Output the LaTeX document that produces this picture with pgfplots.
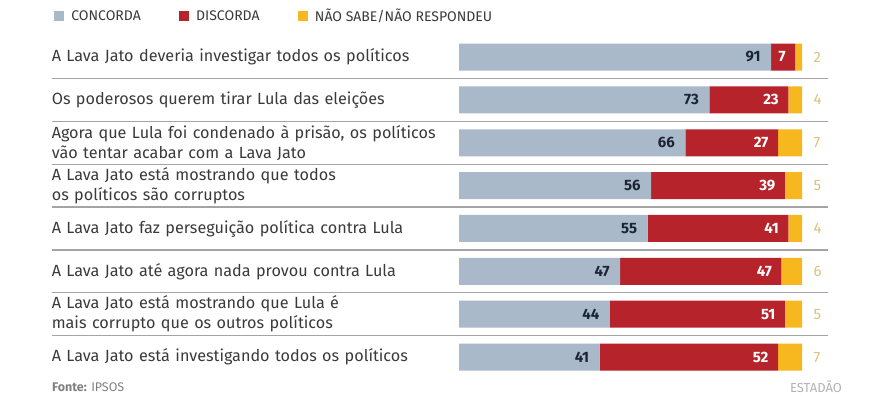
\documentclass[border=0pt]{standalone}
\usepackage{fontspec}
\setmainfont{Fira Sans}
\usepackage{pgfplots}
\pgfplotsset{compat=1.18}
\usepackage{pgfplotstable}
\definecolor{cgray}{HTML}{A9B9C9}
\definecolor{cred}{HTML}{B7232A}
\definecolor{cyel}{HTML}{F6B81E}
\definecolor{cnavy}{HTML}{1C2533}
\definecolor{ctan}{HTML}{D9C27C}
\definecolor{ctext}{HTML}{3A3A3A}
\definecolor{cline}{HTML}{A4A4A4}
% r: row, c: concorda, d: discorda, n: nao sabe, cd: end of the red segment (c+d), t: total
\pgfplotstableread{
r c d n cd t
1 91 7 2 98 100
2 73 23 4 96 100
3 66 27 7 93 100
4 56 39 5 95 100
5 55 41 4 96 100
6 47 47 6 94 100
7 44 51 5 95 100
8 41 52 7 93 100
}\data
\pgfplotsset{
  frame/.style={
    at={(459bp,359.4bp)}, anchor=north west,
    scale only axis, width=343bp, height=342.9bp,
    xmin=0, xmax=100, ymin=0.5, ymax=8.5, y dir=reverse,
    clip=false,
  },
}
\tikzset{numlab/.style={font=\fontsize{15bp}{16bp}\selectfont\bfseries}}
\begin{document}
\begin{tikzpicture}[x=1bp,y=1bp]
\useasboundingbox (0,0) rectangle (890,395);
\begin{axis}[
  frame,
  xbar stacked, bar width=0.63,
  axis line style={draw=none}, major tick length=0pt,
  xtick=\empty, ytick={1,...,8},
  yticklabels={
    {A Lava Jato deveria investigar todos os políticos},
    {Os poderosos querem tirar Lula das eleições},
    {Agora que Lula foi condenado à prisão, os políticos\\vão tentar acabar com a Lava Jato},
    {A Lava Jato está mostrando que todos\\os políticos são corruptos},
    {A Lava Jato faz perseguição política contra Lula},
    {A Lava Jato até agora nada provou contra Lula},
    {A Lava Jato está mostrando que Lula é\\mais corrupto que os outros políticos},
    {A Lava Jato está investigando todos os políticos}},
  yticklabel style={font=\fontsize{16.2bp}{20bp}\selectfont, text width=407bp, align=left, anchor=east, inner sep=0pt, color=ctext},
  legend style={at={(-1.19,1.057)}, anchor=west, draw=none, fill=none,
    legend columns=3, font=\fontsize{14bp}{15bp}\selectfont, text=ctext,
    /tikz/every odd column/.append style={column sep=6bp},
    /tikz/every even column/.append style={column sep=36bp}},
  legend cell align=left,
]
\addlegendimage{legend image code/.code={\fill[cgray] (0bp,-4.5bp) rectangle (9bp,4.5bp);}}
\addlegendentry{CONCORDA}
\addlegendimage{legend image code/.code={\fill[cred] (0bp,-4.5bp) rectangle (9bp,4.5bp);}}
\addlegendentry{DISCORDA}
\addlegendimage{legend image code/.code={\fill[cyel] (0bp,-4.5bp) rectangle (9bp,4.5bp);}}
\addlegendentry{NÃO SABE/NÃO RESPONDEU}

\pgfplotsinvokeforeach{1.5,2.5,3.5,4.5,5.5,6.5,7.5}{
  \draw[cline, line width=1.3bp] (axis cs:-118.7,#1) -- (axis cs:107.6,#1);
}

\addplot[fill=cgray, draw=none, forget plot] table[x=c, y=r]{\data};
\addplot[fill=cred, draw=none, forget plot] table[x=d, y=r]{\data};
\addplot[fill=cyel, draw=none, forget plot] table[x=n, y=r]{\data};
\end{axis}
\begin{axis}[
  frame, hide axis,
  /pgf/number format/assume math mode=true,
  point meta=explicit,
]
\addplot[draw=none, mark=none, nodes near coords,
  nodes near coords align={anchor=east},
  nodes near coords style={numlab, anchor=east, xshift=-7bp, text=cnavy}]
  table[x=c, y=r, meta=c]{\data};
\addplot[draw=none, mark=none, nodes near coords,
  nodes near coords align={anchor=east},
  nodes near coords style={numlab, anchor=east, xshift=-6bp, text=white}]
  table[x=cd, y=r, meta=d]{\data};
\addplot[draw=none, mark=none, nodes near coords,
  nodes near coords align={anchor=west},
  nodes near coords style={font=\fontsize{15bp}{16bp}\selectfont, anchor=west, xshift=8bp, text=ctan}]
  table[x=t, y=r, meta=n]{\data};
\end{axis}
\node[anchor=west, inner sep=0pt, text=gray, font=\fontsize{12.5bp}{14bp}\selectfont] at (52,8) {\textbf{Fonte:} IPSOS};
\node[anchor=east, inner sep=0pt, text=gray!60, font=\fontsize{13bp}{14bp}\selectfont] at (842,8) {ESTADÃO};
\end{tikzpicture}
\end{document}
